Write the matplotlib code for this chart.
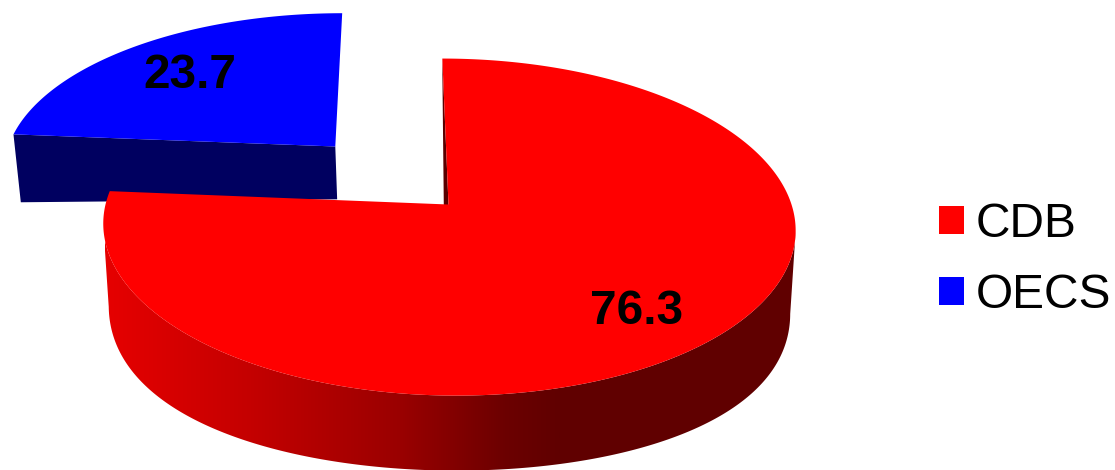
import matplotlib
matplotlib.use('Agg')
import matplotlib.pyplot as plt
import numpy as np
from matplotlib.colors import LinearSegmentedColormap
from matplotlib.patches import Patch, Polygon

categories = ['CDB', 'OECS']
shares = [76.3, 23.7]
share_labels = ['76.3', '23.7']
top_colors = ['#ff0000', '#0000ff']
blue_side = '#000060'
wall_color = '#5a0000'

plt.rcParams['font.family'] = ['Liberation Sans', 'DejaVu Sans']


# perspective of the pie top, disc coords -> image pixels
def top_face(u, v):
    w = 1 + 0.134 * v
    return 448.5 + (343 * u - 7 * v) / w, 204.5 - 165.5 * v / w


# the lower rim is not a plain copy of the top one in the picture
def bottom_face(u, v):
    x, y = top_face(u, v)
    d = 66.7 - 32.5 * v + 11.6 * u**2 - 24.2 * v**2
    return x - 5.5 * u, y + d


def rim(a0, a1, cu=0.0, cv=0.0):
    a = np.radians(np.linspace(a0, a1, 400))
    return cu + np.sin(a), cv + np.cos(a)


fig = plt.figure(figsize=(11.15, 4.7), dpi=100)
ax = fig.add_axes([0, 0, 1, 1])
ax.set_xlim(0, 1115)
ax.set_ylim(470, 0)
ax.axis('off')

red_end = 360 * shares[0] / sum(shares)
blue_mid = red_end + 180 * shares[1] / sum(shares)
explode = 0.5
cu = explode * np.sin(np.radians(blue_mid))
cv = explode * np.cos(np.radians(blue_mid))

# blue slice, pulled out
u, v = rim(red_end, 360, cu, cv)
bx, by = top_face(u, v)
ax0, ay0 = top_face(cu, cv)
cx0, cy0 = bottom_face(cu, cv)
lx, ly = bottom_face(u[0], v[0])
ax.add_patch(Polygon([(ax0, ay0), (bx[0], by[0]), (lx, ly), (cx0, cy0)],
                     fc=blue_side, lw=0, zorder=1))
ax.add_patch(Polygon(np.r_[[(ax0, ay0)], np.c_[bx, by]], fc=top_colors[1], lw=0, zorder=2))

# red outer wall with the left to right shading, only the front part between
# the two side extremes, otherwise the outline crosses itself
u, v = rim(0, red_end)
tx, ty = top_face(u, v)
sx, sy = bottom_face(u, v)
i0, i1 = np.argmax(tx), np.argmin(tx)
ribbon = Polygon(np.r_[np.c_[tx[i0:i1], ty[i0:i1]], np.c_[sx[i0:i1], sy[i0:i1]][::-1]],
                 fc='none', lw=0, zorder=3)
ax.add_patch(ribbon)
shade = LinearSegmentedColormap.from_list('shade', [
    (0.0, '#e60000'), (0.32, '#c40000'), (0.65, '#9a0000'), (0.88, '#6c0000'), (1.0, '#600000')])
im = ax.imshow(np.linspace(0, 1, 256)[None, :], cmap=shade, aspect='auto',
               extent=(105, 560, 470, 0), zorder=3)
ax.set_xlim(0, 1115)
ax.set_ylim(470, 0)
im.set_clip_path(ribbon)
ax.add_patch(Polygon([(560, 0), (800, 0), (800, 470), (560, 470)], fc='#600000', lw=0, zorder=3,
                     clip_path=ribbon))

# cut face seen behind the start edge of the red slice
ox, oy = top_face(0, 1)
px, py = top_face(0, 0)
qx, qy = bottom_face(0, 0)
rx, ry = bottom_face(0, 1)
ax.add_patch(Polygon([(ox, oy), (px, py), (qx - 4, qy), (rx, ry)], fc=wall_color, lw=0, zorder=4))

ax.add_patch(Polygon(np.r_[[(px, py)], np.c_[tx, ty]], fc=top_colors[0], lw=0, zorder=5))

ax.text(637, 311, share_labels[0], fontsize=34.5, fontweight='bold', ha='center', va='center', zorder=6)
ax.text(190, 75, share_labels[1], fontsize=34.5, fontweight='bold', ha='center', va='center', zorder=6)

handles = [Patch(fc=c, lw=0) for c in top_colors]
ax.legend(handles, categories, loc='center left', bbox_to_anchor=(939 / 1115, 1 - 260 / 470),
          frameon=False, fontsize=34.5, handlelength=0.52, handleheight=0.52,
          handletextpad=0.25, labelspacing=0.55, borderpad=0, borderaxespad=0)

fig.savefig('out.png', dpi=100, facecolor='white')
